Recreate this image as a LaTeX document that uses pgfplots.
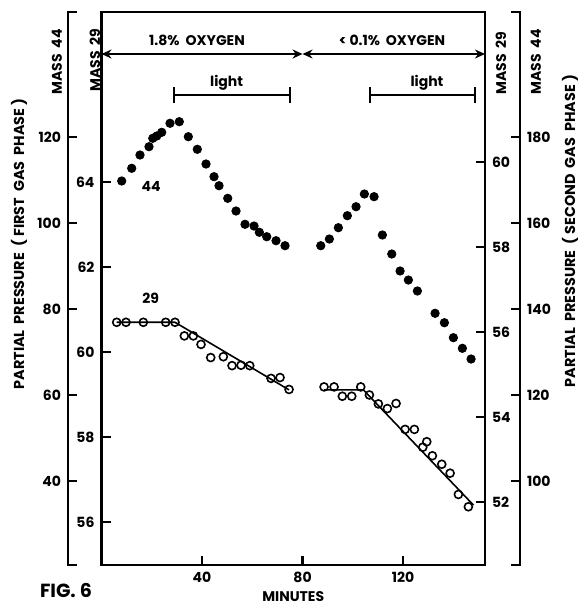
\documentclass[border=0pt]{standalone}
\usepackage{fontspec}
\setmainfont{Poppins}
\usepackage{pgfplots}
\pgfplotsset{compat=1.18}
\usetikzlibrary{arrows.meta}

\pgfplotsset{
  boxed/.style={scale only axis, width=191.75pt, height=276.5pt,
    xmin=0, xmax=152.6, at={(0pt,0pt)}, anchor=south west, clip=false},
  ticky/.style={axis line style={line width=1.3pt},
    tick align=inside, major tick length=0pt,
    ticklabel style={font=\bfseries\fontsize{7}{8}\selectfont},
    /pgf/number format/assume math mode=true},
}
\newcommand{\lbl}{\bfseries\fontsize{7}{8}\selectfont}
\tikzset{tk/.style={line width=1.3pt}}

\begin{document}
\begin{tikzpicture}
\path[use as bounding box] (-50.75pt,-20.5pt) rectangle (238.75pt,282.5pt);

% outer left axis: mass 44, first gas phase
\begin{axis}[boxed, ticky, at={(-16.75pt,0pt)}, anchor=south west,
  ymin=20.47, ymax=149.07, hide x axis,
  separate axis lines, y axis line style={draw=none},
  ytick pos=left, ytick={40,60,...,120}]
  \draw[tk] ([xshift=4.5pt]axis description cs:0,1) -- (axis description cs:0,1)
    -- (axis description cs:0,0) -- ([xshift=4.5pt]axis description cs:0,0);
  \pgfplotsinvokeforeach{40,60,80,100,120}{
    \draw[tk] (axis cs:0,#1) -- (axis cs:3.6,#1);}
\end{axis}

% outer right axis: mass 44, second gas phase
\begin{axis}[boxed, ticky, at={(209.25pt,0pt)}, anchor=south east,
  ymin=80.47, ymax=209.07, hide x axis,
  separate axis lines, y axis line style={draw=none},
  ytick pos=right, ytick={100,120,...,180}]
  \draw[tk] ([xshift=-4.5pt]axis description cs:1,1) -- (axis description cs:1,1)
    -- (axis description cs:1,0) -- ([xshift=-4.5pt]axis description cs:1,0);
  \pgfplotsinvokeforeach{100,120,140,160,180}{
    \draw[tk] (axis cs:152.6,#1) -- (axis cs:149,#1);}
\end{axis}

% mass 44 points, first phase, and the labels on top
\begin{axis}[boxed, hide axis, ymin=20.47, ymax=149.07]
  \addplot[only marks, mark=*, mark size=2.1pt, black] coordinates {
    (8.04,109.77)(12.02,112.72)(15.32,115.81)(18.9,117.74)(20.4,119.70)
    (22.0,120.23)(23.96,121.09)(27.26,123.19)(30.96,123.56)(34.55,120.07)
    (38.13,117.14)(41.59,113.72)(44.78,110.77)(46.77,108.67)(50.23,105.74)
    (53.53,102.79)(57.11,99.70)(60.70,99.30)(62.81,97.84)(65.75,96.81)
    (69.45,95.88)(73.03,94.72)};
  \draw[line width=1.2pt, {Stealth[length=5pt,width=4.5pt]}-{Stealth[length=5pt,width=4.5pt]}]
    (axis cs:0,139.3) -- (axis cs:80,139.3);
  \draw[line width=1.2pt, {Stealth[length=5pt,width=4.5pt]}-{Stealth[length=5pt,width=4.5pt]}]
    (axis cs:80,139.3) -- (axis cs:152.6,139.3);
  \node[font=\lbl] at (axis cs:38,142.4) {1.8\%\ \ OXYGEN};
  \node[font=\lbl] at (axis cs:115.6,142.4) {<\ 0.1\%\ \ OXYGEN};
  \draw[line width=1.2pt] (axis cs:28.9,129.77) -- (axis cs:75,129.77);
  \draw[line width=1.2pt] (axis cs:28.9,127.9) -- (axis cs:28.9,131.6);
  \draw[line width=1.2pt] (axis cs:75,127.9) -- (axis cs:75,131.6);
  \draw[line width=1.2pt] (axis cs:106.9,129.77) -- (axis cs:148.6,129.77);
  \draw[line width=1.2pt] (axis cs:106.9,127.9) -- (axis cs:106.9,131.6);
  \draw[line width=1.2pt] (axis cs:148.6,127.9) -- (axis cs:148.6,131.6);
  \node[font=\lbl] at (axis cs:49.8,132.6) {light};
  \node[font=\lbl] at (axis cs:129.5,132.6) {light};
  \node[font=\lbl] at (axis cs:19.7,108.4) {44};
  \node[font=\lbl] at (axis cs:19.6,82.6) {29};
\end{axis}

% mass 44 points, second phase
\begin{axis}[boxed, hide axis, ymin=80.47, ymax=209.07]
  \addplot[only marks, mark=*, mark size=2.1pt, black] coordinates {
    (87.24,154.72)(90.67,156.28)(94.25,158.91)(97.83,161.70)(101.29,163.79)
    (104.60,166.74)(108.46,166.12)(111.76,157.21)(115.50,152.79)(118.81,148.84)
    (122.11,146.74)(125.69,144.19)(132.74,139.0)(136.44,136.81)(140.02,133.33)
    (143.6,130.86)(147.06,128.37)};
\end{axis}

% inner right axis: mass 29, second gas phase
\begin{axis}[boxed, ticky, ymin=50.52, ymax=63.53, hide x axis,
  separate axis lines, y axis line style={draw=none},
  ytick pos=right, ytick={52,54,...,60}]
  \pgfplotsinvokeforeach{52,54,56,58,60}{
    \draw[tk] (axis cs:152.6,#1) -- (axis cs:149,#1);}
  \addplot[line width=0.8pt, black] coordinates {(88.56,54.64)(104.2,54.64)(148.0,51.93)};
  \addplot[only marks, mark=o, mark size=2pt, black,
    mark options={line width=0.8pt, fill=white}] coordinates {
    (88.56,54.71)(92.54,54.71)(95.84,54.49)(99.58,54.49)(103.16,54.71)
    (106.59,54.52)(110.17,54.31)(113.75,54.20)(117.21,54.32)(120.8,53.71)
    (124.5,53.71)(127.84,53.29)(129.43,53.42)(131.66,53.09)(135.4,52.89)
    (138.71,52.68)(142.01,52.18)(145.99,51.89)};
\end{axis}

% main box: mass 29, first gas phase
\begin{axis}[boxed, ticky, ymin=54.99, ymax=68.0,
  xtick={40,80,120}, ytick={56,58,...,64},
  xtick pos=bottom, ytick pos=left,
  xlabel={MINUTES}, xlabel style={font=\lbl, at={(axis description cs:0.5,0)},
    anchor=center, yshift=-16pt}]
  \pgfplotsinvokeforeach{56,58,60,62,64}{
    \draw[tk] (axis cs:0,#1) -- (axis cs:3.6,#1);}
  \pgfplotsinvokeforeach{40,80,120}{
    \draw[tk] (axis cs:#1,54.99) -- (axis cs:#1,55.2);}
  \addplot[line width=0.8pt, black] coordinates {(6.05,60.70)(29.25,60.70)(74.63,59.11)};
  \addplot[only marks, mark=o, mark size=2pt, black,
    mark options={line width=0.8pt, fill=white}] coordinates {
    (6.05,60.70)(9.75,60.70)(16.64,60.70)(25.55,60.70)(29.25,60.70)
    (32.96,60.38)(36.54,60.38)(39.6,60.18)(43.46,59.87)(48.48,59.89)
    (51.94,59.68)(55.52,59.69)(58.99,59.68)(67.46,59.38)(71.04,59.40)
    (74.63,59.12)};
\end{axis}

\node[font=\lbl, rotate=90] at (-22.25pt,251.5pt) {MASS\ \ 44};
\node[font=\lbl, rotate=90] at (-3.25pt,252.5pt) {MASS\ \ 29};
\node[font=\lbl, rotate=90] at (199.75pt,251pt) {MASS\ \ 29};
\node[font=\lbl, rotate=90] at (217.25pt,251.5pt) {MASS\ \ 44};
\node[font=\bfseries\fontsize{7.2}{9}\selectfont, rotate=90] at (-41.25pt,160.5pt)
  {PARTIAL\ \ PRESSURE\ \ (\ FIRST\ \ GAS\ \ PHASE\ )};
\node[font=\bfseries\fontsize{7.2}{9}\selectfont, rotate=90] at (234.25pt,167pt)
  {PARTIAL\ \ PRESSURE\ \ (\ SECOND\ \ GAS\ \ PHASE\ )};
\node[font=\bfseries\fontsize{9.5}{11}\selectfont] at (-17.75pt,-12.5pt) {FIG. 6};
\end{tikzpicture}
\end{document}
